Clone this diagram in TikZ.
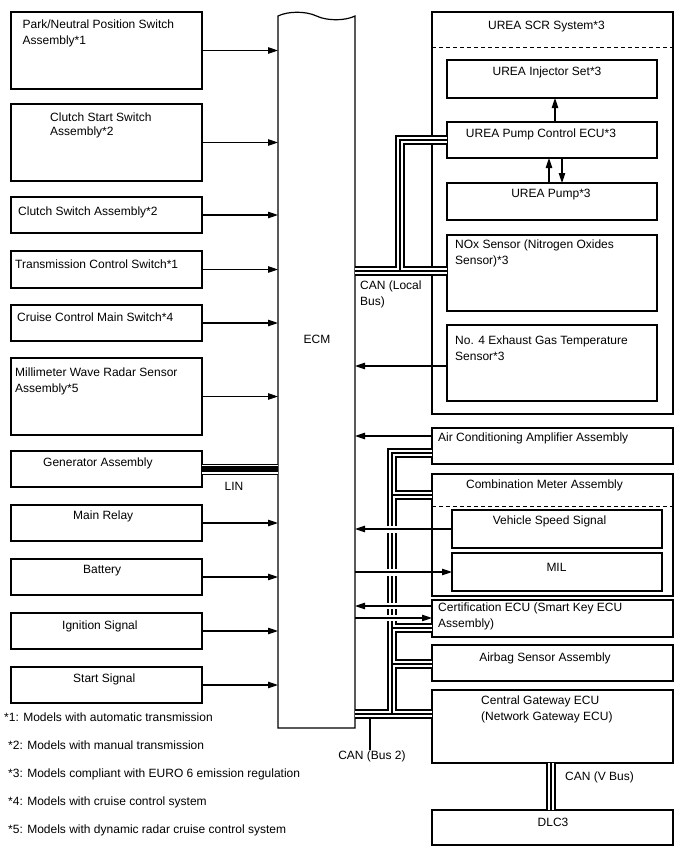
\documentclass[tikz,border=0pt]{standalone}
\usepackage{fontspec}
\setmainfont{Liberation Sans}
\usetikzlibrary{arrows.meta}
\begin{document}
\begin{tikzpicture}[x=1pt, y=-1pt,
  box/.style={draw, line width=1.2pt, anchor=north west, inner sep=0pt, outer sep=0pt},
  txt/.style={anchor=base west, inner sep=0pt, font=\fontsize{12}{14}\selectfont},
  ctxt/.style={anchor=base, inner sep=0pt, font=\fontsize{12}{14}\selectfont},
  arr/.style={line width=1.1pt, -{Triangle[length=10pt, width=6.5pt]}},
  canbus/.style={line width=6.5pt, draw=white, preaction={draw=black, line width=10.5pt}, postaction={draw=black, line width=1.2pt}},
  linbus/.style={line width=9pt, draw=white, preaction={draw=black, line width=11pt}, postaction={draw=black, line width=5.5pt}},
  dashline/.style={dash pattern=on 4pt off 3pt, line width=1.2pt},
  halo/.style={fill=white, draw=none}]
\useasboundingbox[fill=white] (0,0) rectangle (688,852);

% ---------- left boxes ----------
\node[box, minimum width=191pt, minimum height=77pt] (b1) at (11,12) {};
\node[box, minimum width=191pt, minimum height=77pt] (b2) at (11,104) {};
\node[box, minimum width=191pt, minimum height=36pt] (b3) at (11,197) {};
\node[box, minimum width=191pt, minimum height=37pt] (b4) at (11,251) {};
\node[box, minimum width=191pt, minimum height=36pt] (b5) at (11,305) {};
\node[box, minimum width=191pt, minimum height=77pt] (b6) at (11,358) {};
\node[box, minimum width=191pt, minimum height=36pt] (b7) at (11,451) {};
\node[box, minimum width=191pt, minimum height=36pt] (b8) at (11,505) {};
\node[box, minimum width=191pt, minimum height=36pt] (b9) at (11,559) {};
\node[box, minimum width=191pt, minimum height=36pt] (b10) at (11,613) {};
\node[box, minimum width=191pt, minimum height=36pt] (b11) at (11,667) {};

\node[txt] (t1a) at (22.5,28.8) {Park/Neutral Position Switch};
\node[txt] (t1b) at (22.5,44.3) {Assembly*1};
\node[txt] (t2a) at (50,121.3) {Clutch Start Switch};
\node[txt] (t2b) at (50,135.3) {Assembly*2};
\node[txt] (t3) at (18,215.3) {Clutch Switch Assembly*2};
\node[txt] (t4) at (15,268.3) {Transmission Control Switch*1};
\node[txt] (t5) at (17,321.3) {Cruise Control Main Switch*4};
\node[txt] (t6a) at (15,376.3) {Millimeter Wave Radar Sensor};
\node[txt] (t6b) at (15,392.3) {Assembly*5};
\node[txt] (t7) at (43,466.3) {Generator Assembly};
\node[txt] (t8) at (73,519.3) {Main Relay};
\node[txt] (t9) at (83,573.3) {Battery};
\node[txt] (t10) at (62,629.3) {Ignition Signal};
\node[txt] (t11) at (73,682.3) {Start Signal};

% ---------- ECM ----------
\node[anchor=north west, inner sep=0pt, outer sep=0pt, minimum width=77pt, minimum height=712pt] (ecm) at (278,16) {};
\draw[line width=1.2pt] (ecm.north west) .. controls (288,11) and (306,11) .. (ecm.north)
  .. controls (327,21) and (345,21) .. (ecm.north east) -- (ecm.south east) -- (ecm.south west) -- cycle;
\node[ctxt] (ecmt) at (317,343.3) {ECM};

% ---------- right boxes ----------
\node[box, minimum width=241pt, minimum height=402pt] (scr) at (432,12) {};
\node[box, minimum width=210pt, minimum height=38pt] (inj) at (447,60) {};
\node[box, minimum width=210pt, minimum height=36pt] (ecu) at (447,122) {};
\node[box, minimum width=210pt, minimum height=37pt] (pump) at (447,183) {};
\node[box, minimum width=210pt, minimum height=76pt] (nox) at (447,235) {};
\node[box, minimum width=210pt, minimum height=76pt] (egt) at (447,325) {};
\node[box, minimum width=241pt, minimum height=36pt] (ac) at (432,428) {};
\node[box, minimum width=241pt, minimum height=122pt] (cm) at (432,474) {};
\node[box, minimum width=210pt, minimum height=38pt] (vss) at (452,510) {};
\node[box, minimum width=210pt, minimum height=38pt] (mil) at (452,553) {};
\node[box, minimum width=241pt, minimum height=37pt] (cert) at (432,600) {};
\node[box, minimum width=241pt, minimum height=36pt] (airbag) at (432,645) {};
\node[box, minimum width=241pt, minimum height=73pt] (gw) at (432,690) {};
\node[box, minimum width=241pt, minimum height=35pt] (dlc) at (432,810) {};

\coordinate (d1l) at (432,47.5);
\coordinate (d1r) at (673,47.5);
\draw[dashline] (d1l) -- (d1r);
\coordinate (d2l) at (432,506.5);
\coordinate (d2r) at (673,506.5);
\draw[dashline] (d2l) -- (d2r);

\node[ctxt] (tscr) at (546.5,29.3) {UREA SCR System*3};
\node[ctxt] (tinj) at (547,75.3) {UREA Injector Set*3};
\node[ctxt] (tecu) at (541,137.3) {UREA Pump Control ECU*3};
\node[ctxt] (tpump) at (551,197.3) {UREA Pump*3};
\node[txt] (tnoxa) at (455,248.3) {NOx Sensor (Nitrogen Oxides};
\node[txt] (tnoxb) at (455,264.3) {Sensor)*3};
\node[txt] (tegta) at (455,344.3) {No. 4 Exhaust Gas Temperature};
\node[txt] (tegtb) at (455,360.3) {Sensor*3};
\node[txt] (tac) at (438,441.3) {Air Conditioning Amplifier Assembly};
\node[ctxt] (tcm) at (544.5,488.3) {Combination Meter Assembly};
\node[ctxt] (tvss) at (549.5,524.3) {Vehicle Speed Signal};
\node[ctxt] (tmil) at (556.5,571.3) {MIL};
\node[txt] (tcerta) at (438,611.3) {Certification ECU (Smart Key ECU};
\node[txt] (tcertb) at (438,627.3) {Assembly)};
\node[ctxt] (tair) at (545,661.3) {Airbag Sensor Assembly};
\node[txt] (tgwa) at (481,704.3) {Central Gateway ECU};
\node[txt] (tgwb) at (481,720.3) {(Network Gateway ECU)};
\node[ctxt] (tdlc) at (553,826.3) {DLC3};

% ---------- buses ----------
\coordinate (yloc) at (0,271);
\coordinate (vloc) at (400,271);
\coordinate (vloctop) at (400,140);
\draw[canbus] (ecm.east |- yloc) -- (nox.west |- yloc)
  (vloc) -- (vloctop) -- (ecu.west);

\coordinate (yb2) at (0,714);
\coordinate (vb2) at (392,714);
\coordinate (vb2top) at (392,453);
\coordinate (vcm) at (392,495);
\coordinate (vcert) at (392,628);
\coordinate (vair) at (392,664);
\draw[canbus] (ecm.east |- yb2) -- (gw.west |- yb2)
  (vb2) -- (vb2top) -- (ac.west |- vb2top)
  (vcm) -- (cm.west |- vcm)
  (vcert) -- (cert.west |- vcert)
  (vair) -- (airbag.west |- vair);

\coordinate (vbtop) at (551,763);
\coordinate (vbbot) at (551,810);
\draw[canbus] (vbtop) -- (vbbot);

\draw[linbus] (b7.east) -- (b7.east -| ecm.west);

% halos where signal lines cross the bus
\fill[halo] (385,525.5) rectangle (400,532.5);
\fill[halo] (385,568.5) rectangle (400,575.5);
\fill[halo] (385,603) rectangle (400,609);
\fill[halo] (385,615) rectangle (400,621);

% ---------- bus labels ----------
\node[txt] (tloca) at (360,289.3) {CAN (Local};
\node[txt] (tlocb) at (360,305.3) {Bus)};
\node[ctxt] (tlin) at (234,490.3) {LIN};
\node[ctxt] (tb2) at (372,759.3) {CAN (Bus 2)};
\coordinate (ldr) at (370,719);
\draw[line width=1.1pt] (ldr) -- (ldr |- tb2.north);
\node[txt] (tvb) at (565,780.3) {CAN (V Bus)};

% ---------- arrows: left to ECM ----------
\foreach \b in {b1,b2,b3,b4,b5,b6,b8,b9,b10,b11}
  \draw[arr] (\b.east) -- (\b.east -| ecm.west);

% ---------- arrows: right side ----------
\coordinate (yegt) at (0,366);
\draw[arr] (egt.west |- yegt) -- (ecm.east |- yegt);
\coordinate (yac) at (0,436);
\draw[arr] (ac.west |- yac) -- (ecm.east |- yac);
\draw[arr] (vss.west) -- (vss.west -| ecm.east);
\draw[arr] (mil.west -| ecm.east) -- (mil.west);
\coordinate (yc1) at (0,606);
\draw[arr] (cert.west |- yc1) -- (ecm.east |- yc1);
\coordinate (yc2) at (0,618);
\draw[arr] (ecm.east |- yc2) -- (cert.west |- yc2);

\coordinate (xa) at (555,0);
\draw[arr] (ecu.north -| xa) -- (inj.south -| xa);
\coordinate (xb) at (549,0);
\draw[arr] (pump.north -| xb) -- (ecu.south -| xb);
\coordinate (xc) at (562,0);
\draw[arr] (ecu.south -| xc) -- (pump.north -| xc);

% ---------- footnotes ----------
\node[txt] (f1) at (4,721.3) {*1: Models with automatic transmission};
\node[txt] (f2) at (8,749.3) {*2: Models with manual transmission};
\node[txt] (f3) at (8,777.3) {*3: Models compliant with EURO 6 emission regulation};
\node[txt] (f4) at (8,805.3) {*4: Models with cruise control system};
\node[txt] (f5) at (8,833.3) {*5: Models with dynamic radar cruise control system};
\end{tikzpicture}
\end{document}
